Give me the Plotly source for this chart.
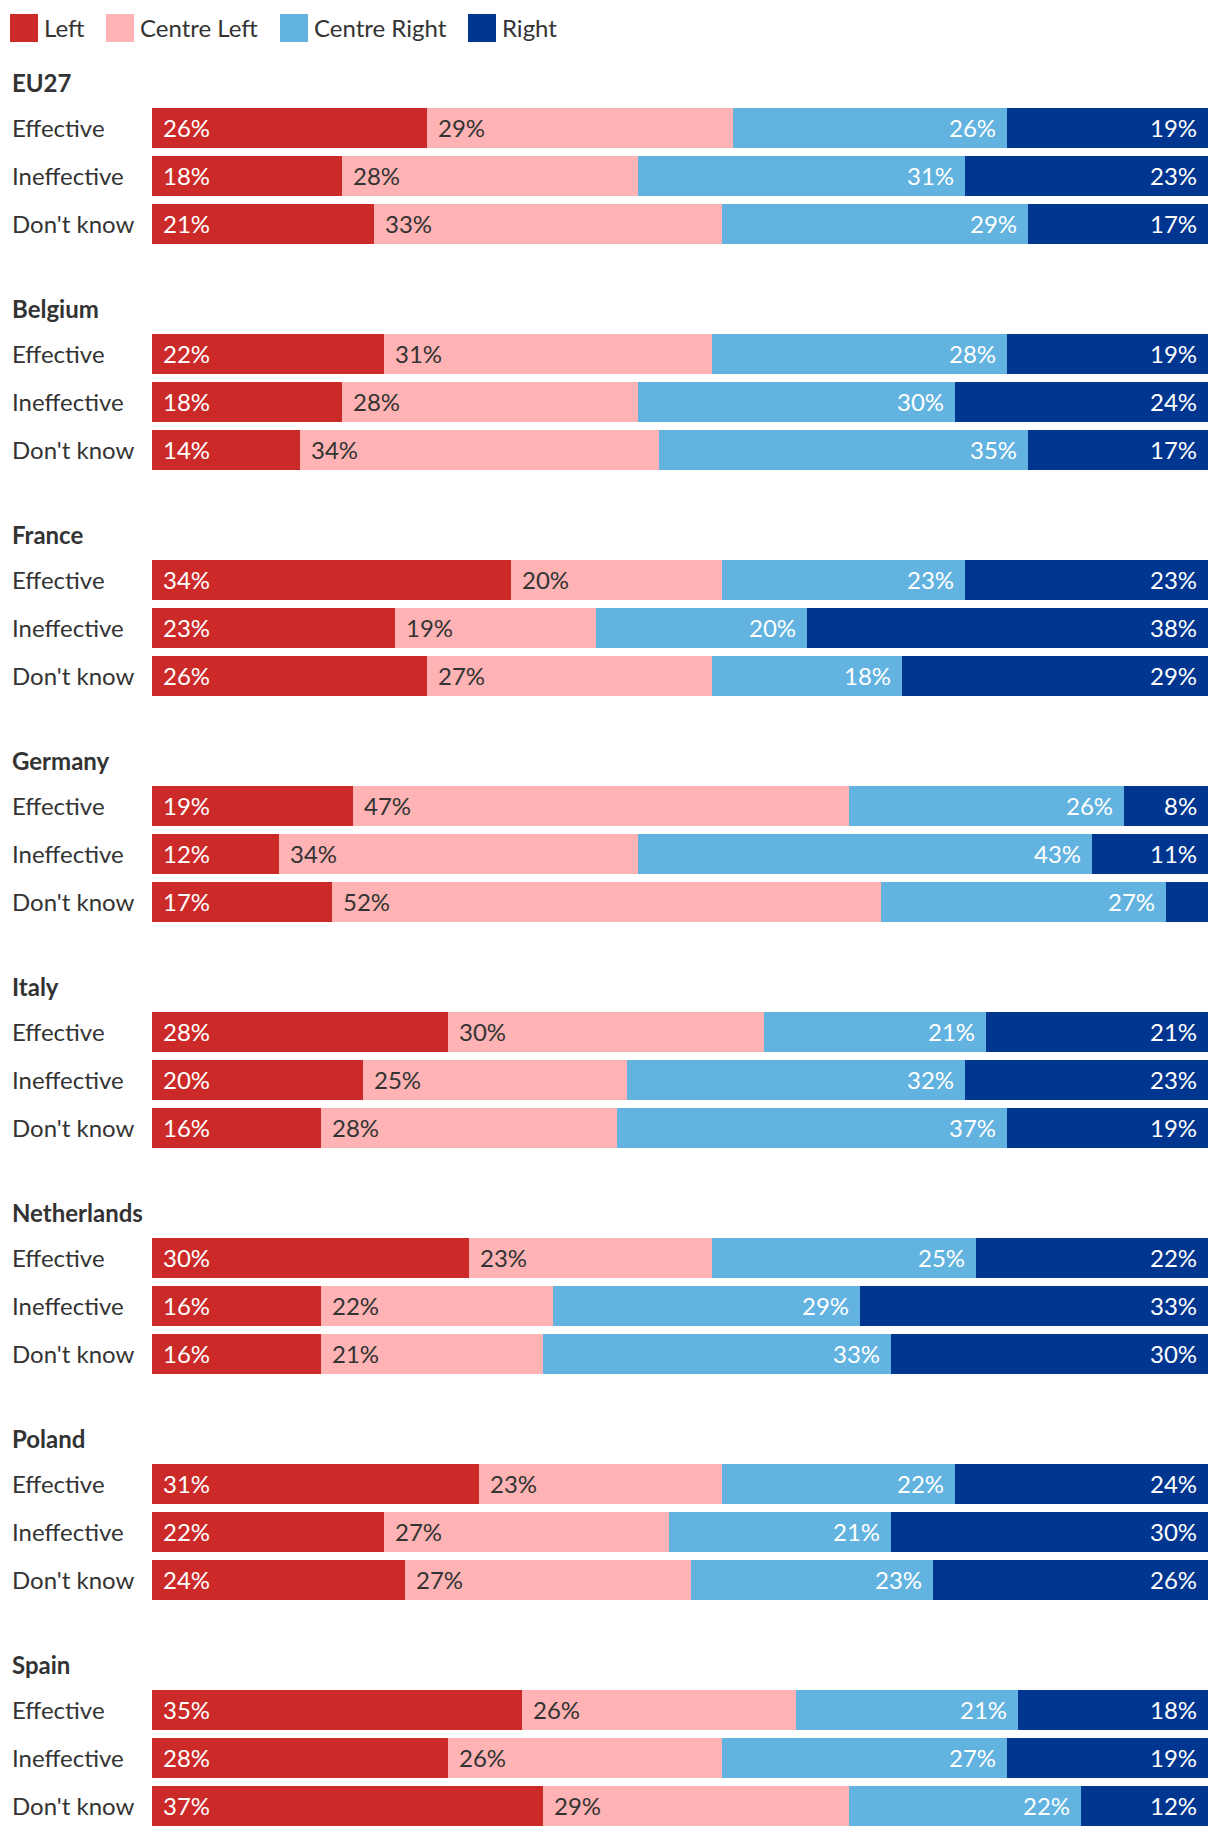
import plotly.graph_objects as go

# ---------------- data ----------------
countries = ["EU27", "Belgium", "France", "Germany", "Italy", "Netherlands", "Poland", "Spain"]
answers = ["Effective", "Ineffective", "Don't know"]
series_names = ["Left", "Centre Left", "Centre Right", "Right"]

left = [26, 18, 21, 22, 18, 14, 34, 23, 26, 19, 12, 17,
        28, 20, 16, 30, 16, 16, 31, 22, 24, 35, 28, 37]
centre_left = [29, 28, 33, 31, 28, 34, 20, 19, 27, 47, 34, 52,
               30, 25, 28, 23, 22, 21, 23, 27, 27, 26, 26, 29]
centre_right = [26, 31, 29, 28, 30, 35, 23, 20, 18, 26, 43, 27,
                21, 32, 37, 25, 29, 33, 22, 21, 23, 21, 27, 22]
right = [19, 23, 17, 19, 24, 17, 23, 38, 29, 8, 11, 4,
         21, 23, 19, 22, 33, 30, 24, 30, 26, 18, 19, 12]

colors = ["#cc2a29", "#ffb3b4", "#62b3df", "#003690"]
label_colors = ["#ffffff", "#333333", "#ffffff", "#ffffff"]

# ---------------- layout constants ----------------
W, H = 1220, 1838
ML, MR, MT, MB = 152, 12, 108, 12
ROW_PX, BAR_PX, GROUP_PX = 48, 40, 226
GROUP_STEP = GROUP_PX / ROW_PX
BAR_W = BAR_PX / ROW_PX
FONT = "Lato"
TXT = "#333333"
FS = 24

ypos = [g * GROUP_STEP + r for g in range(len(countries)) for r in range(len(answers))]
ylabels = [a for _ in countries for a in answers]

series = [left, centre_left, centre_right, right]

fig = go.Figure()
for name, vals, col in zip(series_names, series, colors):
    fig.add_trace(go.Bar(
        x=vals, y=ypos, orientation="h", name=name,
        marker=dict(color=col, line=dict(width=0)),
        width=BAR_W, showlegend=False,
        hovertemplate=name + ": %{x}%<extra></extra>",
    ))

annotations = []
# percentage labels
for i, y in enumerate(ypos):
    cum = 0
    for s, vals in enumerate(series):
        v = vals[i]
        start, end = cum, cum + v
        cum = end
        if v < 6:
            continue
        if s < 2:
            annotations.append(dict(x=start, y=y, xref="x", yref="y", text=f"{v}%",
                                    showarrow=False, xanchor="left", yanchor="middle",
                                    xshift=9, yshift=1,
                                    font=dict(family=FONT, size=FS, color=label_colors[s])))
        else:
            annotations.append(dict(x=end, y=y, xref="x", yref="y", text=f"{v}%",
                                    showarrow=False, xanchor="right", yanchor="middle",
                                    xshift=-9, yshift=1,
                                    font=dict(family=FONT, size=FS, color=label_colors[s])))

# row labels
for y, lab in zip(ypos, ylabels):
    annotations.append(dict(x=0, y=y, xref="paper", yref="y", text=lab, showarrow=False,
                            xanchor="left", yanchor="middle", xshift=-(ML - 10), yshift=1,
                            font=dict(family=FONT, size=FS, color=TXT)))

# group titles
for g, c in enumerate(countries):
    annotations.append(dict(x=0, y=g * GROUP_STEP - BAR_W / 2, xref="paper", yref="y",
                            text=f"<b>{c}</b>", showarrow=False, xanchor="left",
                            yanchor="middle", xshift=-(ML - 10), yshift=26,
                            font=dict(family=FONT, size=FS, color=TXT)))

# manual legend (squares + text)
shapes = []
legend_sq_x = [10, 106, 280, 468]
for name, col, sx in zip(series_names, colors, legend_sq_x):
    shapes.append(dict(type="rect", xref="paper", yref="paper", xsizemode="pixel",
                       ysizemode="pixel", xanchor=0, yanchor=1,
                       x0=sx - ML, x1=sx + 28 - ML, y0=MT - 14, y1=MT - 42,
                       fillcolor=col, line=dict(width=0)))
    annotations.append(dict(x=0, y=1, xref="paper", yref="paper", text=name, showarrow=False,
                            xanchor="left", yanchor="middle", xshift=sx + 32 - ML,
                            yshift=MT - 27, font=dict(family=FONT, size=FS, color=TXT)))

y_top = -BAR_W / 2
y_bot = (len(countries) - 1) * GROUP_STEP + (len(answers) - 1) + BAR_W / 2

fig.update_layout(
    width=W, height=H,
    margin=dict(l=ML, r=MR, t=MT, b=MB, pad=0),
    barmode="stack",
    bargap=0,
    plot_bgcolor="white", paper_bgcolor="white",
    font=dict(family=FONT, color=TXT),
    xaxis=dict(range=[0, 100], visible=False, fixedrange=True),
    yaxis=dict(range=[y_bot, y_top], visible=False, fixedrange=True),
    annotations=annotations,
    shapes=shapes,
    showlegend=False,
)

fig.write_html("out.html")
